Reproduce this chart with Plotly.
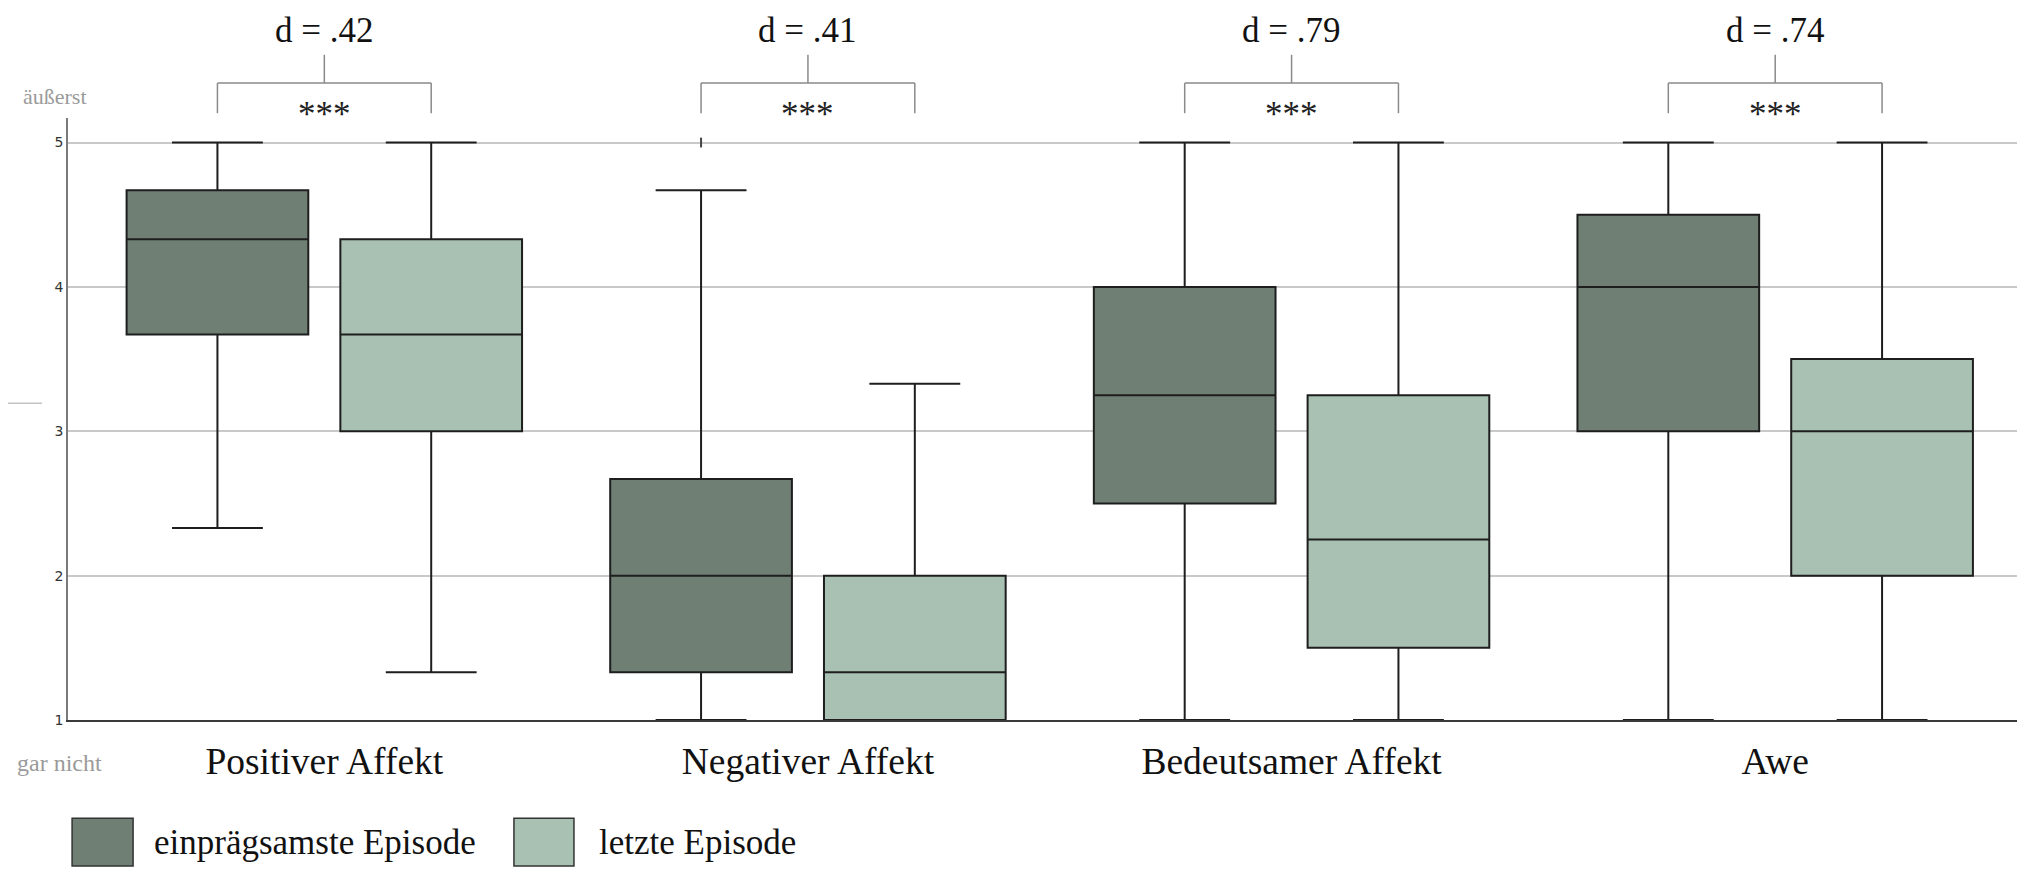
import plotly.graph_objects as go

# ---------------- data ----------------
categories = ["Positiver Affekt", "Negativer Affekt", "Bedeutsamer Affekt", "Awe"]
series_names = ["einprägsamste Episode", "letzte Episode"]

memorable_lower = [2.33, 1.0, 1.0, 1.0]
memorable_q1 = [3.67, 1.33, 2.5, 3.0]
memorable_median = [4.33, 2.0, 3.25, 4.0]
memorable_q3 = [4.67, 2.67, 4.0, 4.5]
memorable_upper = [5.0, 4.67, 5.0, 5.0]

last_lower = [1.33, 1.0, 1.0, 1.0]
last_q1 = [3.0, 1.0, 1.5, 2.0]
last_median = [3.67, 1.33, 2.25, 3.0]
last_q3 = [4.33, 2.0, 3.25, 3.5]
last_upper = [5.0, 3.33, 5.0, 5.0]

outlier_cats = ["Negativer Affekt"]
outlier_vals = [5.0]

effect_sizes = ["d = .42", "d = .41", "d = .79", "d = .74"]
significance = ["***", "***", "***", "***"]

y_ticks = [1, 2, 3, 4, 5]
y_top_label = "äußerst"
y_bottom_label = "gar nicht"

# ---------------- style ----------------
DARK = "#6f7f74"
LIGHT = "#a9c1b2"
EDGE = "#1e1e1e"
SERIF = "Liberation Serif, Times New Roman, serif"
BOXGAP = 0.116
BOXGROUPGAP = 0.15
OFF = (1 - BOXGAP) / 4  # centre offset of each box within its category

fig = go.Figure()

fig.add_trace(go.Box(
    name=series_names[0], x=categories,
    q1=memorable_q1, median=memorable_median, q3=memorable_q3,
    lowerfence=memorable_lower, upperfence=memorable_upper,
    fillcolor=DARK, line=dict(color=EDGE, width=2), whiskerwidth=0.5,
    offsetgroup="a", boxpoints=False, showlegend=False, hoverinfo="skip",
))
fig.add_trace(go.Box(
    name=series_names[1], x=categories,
    q1=last_q1, median=last_median, q3=last_q3,
    lowerfence=last_lower, upperfence=last_upper,
    fillcolor=LIGHT, line=dict(color=EDGE, width=2), whiskerwidth=0.5,
    offsetgroup="b", boxpoints=False, showlegend=False, hoverinfo="skip",
))
# outlier marks
fig.add_trace(go.Scatter(
    x=outlier_cats, y=outlier_vals, mode="markers", offsetgroup="a",
    marker=dict(symbol="line-ns", size=7, line=dict(color="#444", width=2)),
    showlegend=False, hoverinfo="skip",
))
fig.add_trace(go.Scatter(
    x=outlier_cats, y=[None], mode="markers", offsetgroup="b",
    marker=dict(symbol="line-ns", size=7, line=dict(color="#444", width=2)),
    showlegend=False, hoverinfo="skip",
))

shapes = []
annotations = []

# significance brackets and effect sizes
Y_STEM_TOP, Y_BAR, Y_LEG = 1.105, 1.058, 1.008
for i, (d, s) in enumerate(zip(effect_sizes, significance)):
    xl, xr = i - OFF, i + OFF
    line = dict(color="#8a8a8a", width=1.5)
    shapes += [
        dict(type="line", xref="x", yref="paper", x0=xl, x1=xr, y0=Y_BAR, y1=Y_BAR, line=line),
        dict(type="line", xref="x", yref="paper", x0=xl, x1=xl, y0=Y_BAR, y1=Y_LEG, line=line),
        dict(type="line", xref="x", yref="paper", x0=xr, x1=xr, y0=Y_BAR, y1=Y_LEG, line=line),
        dict(type="line", xref="x", yref="paper", x0=i, x1=i, y0=Y_BAR, y1=Y_STEM_TOP, line=line),
    ]
    annotations.append(dict(xref="x", yref="paper", x=i, y=1.145, text=d, showarrow=False,
                            font=dict(family=SERIF, size=35, color="#111"),
                            xanchor="center", yanchor="middle"))
    annotations.append(dict(xref="x", yref="paper", x=i, y=1.005, text=s, showarrow=False,
                            font=dict(family=SERIF, size=35, color="#222"),
                            xanchor="center", yanchor="middle"))

# axis end labels
annotations.append(dict(xref="paper", yref="paper", x=-0.0067, y=1.035, text=y_top_label,
                        showarrow=False, font=dict(family=SERIF, size=22, color="#9a9a9a"),
                        xanchor="center", yanchor="middle"))
annotations.append(dict(xref="paper", yref="paper", x=-0.0045, y=-0.071, text=y_bottom_label,
                        showarrow=False, font=dict(family=SERIF, size=24, color="#9a9a9a"),
                        xanchor="center", yanchor="middle"))

# stray short mark on the left
shapes.append(dict(type="line", xref="paper", yref="paper", x0=-0.0349, x1=-0.0133,
                   y0=0.526, y1=0.526, line=dict(color="#c4c4c4", width=1.5)))

# manual legend
legend_items = [(series_names[0], DARK, 0.0021, 0.0334, 0.0431),
                (series_names[1], LIGHT, 0.2288, 0.2596, 0.2714)]
for name, col, x0, x1, xt in legend_items:
    shapes.append(dict(type="rect", xref="paper", yref="paper", x0=x0, x1=x1,
                       y0=-0.2425, y1=-0.163, fillcolor=col, line=dict(color="#333", width=1.5)))
    annotations.append(dict(xref="paper", yref="paper", x=xt, y=-0.204, text=name,
                            showarrow=False, font=dict(family=SERIF, size=35, color="#111"),
                            xanchor="left", yanchor="middle"))

fig.update_layout(
    width=2031, height=869,
    margin=dict(l=60, r=22, t=110, b=157),
    paper_bgcolor="white", plot_bgcolor="white",
    boxmode="group", boxgap=BOXGAP, boxgroupgap=BOXGROUPGAP,
    scattermode="group", scattergap=BOXGAP,
    shapes=shapes, annotations=annotations,
    showlegend=False,
)
fig.update_xaxes(
    type="category", categoryorder="array", categoryarray=categories,
    range=[-0.53, 3.5], showgrid=False, zeroline=False,
    showline=True, linecolor="#3a3a3a", linewidth=2,
    ticks="", tickfont=dict(family=SERIF, size=37.5, color="#111"),
    ticklabelstandoff=7,
)
fig.update_yaxes(
    range=[1, 5.17], tickvals=y_ticks, ticktext=[str(v) for v in y_ticks],
    showgrid=True, gridcolor="#c9c9c9", gridwidth=1.5, zeroline=False,
    showline=True, linecolor="#7a7a7a", linewidth=1.5,
    ticks="", tickfont=dict(family="DejaVu Sans", size=14, color="#333"),
)

fig.write_html("out.html")
